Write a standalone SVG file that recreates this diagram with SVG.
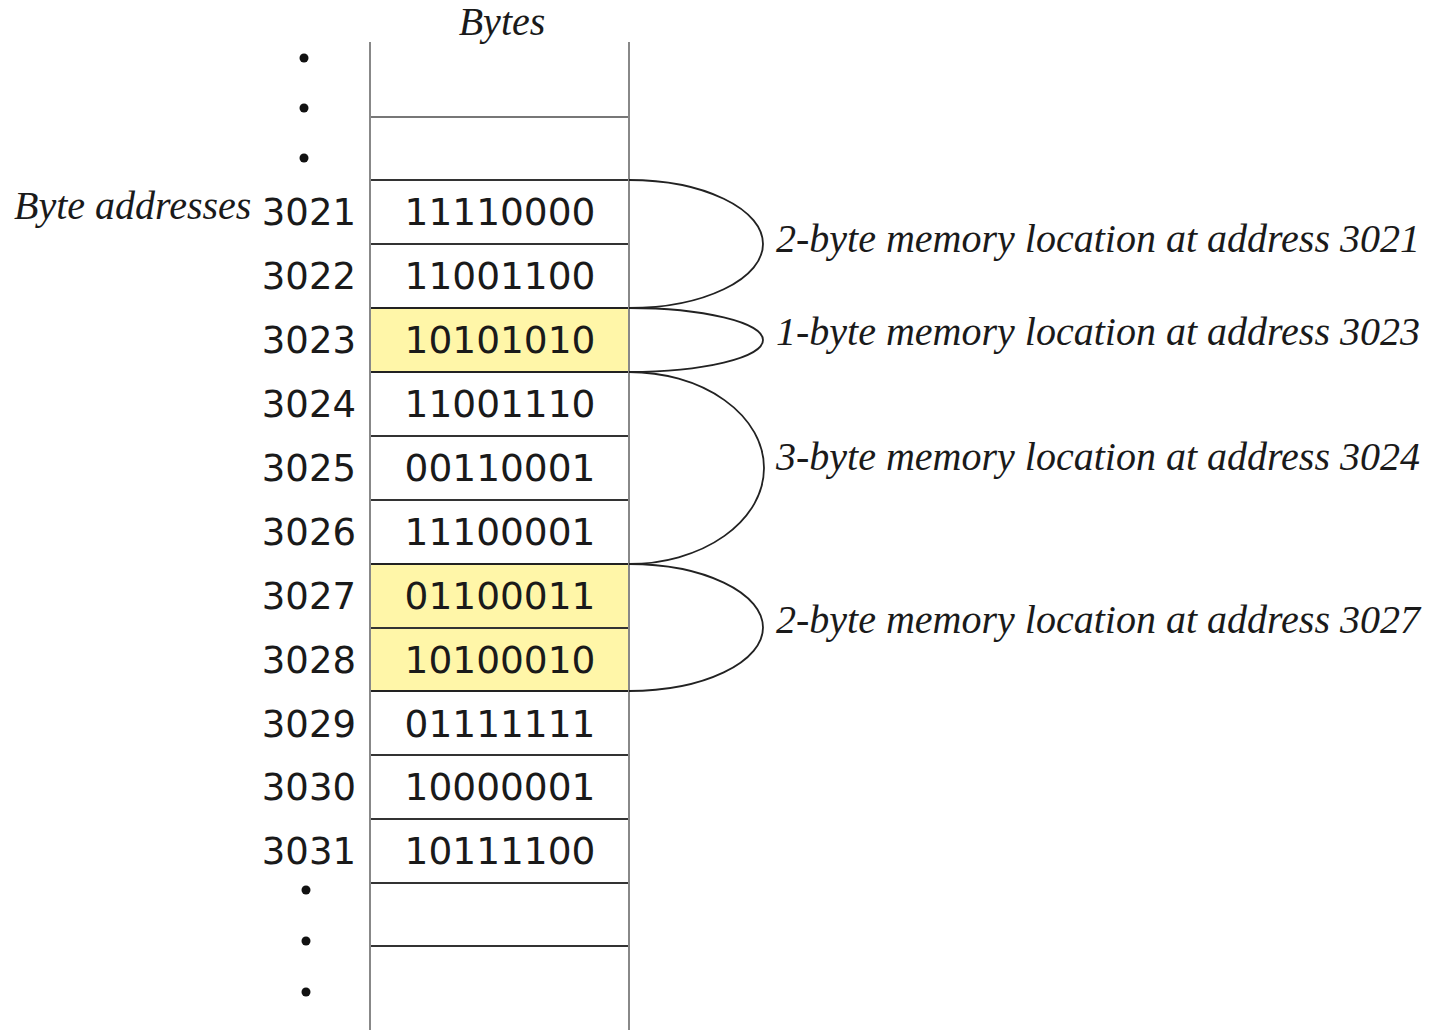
<svg xmlns="http://www.w3.org/2000/svg" width="1435" height="1030" viewBox="0 0 1435 1030">
<style>
.bin{font-family:"DejaVu Sans",sans-serif;font-size:37.5px;fill:#1a1a1a;text-anchor:middle}
.addr{font-family:"DejaVu Sans",sans-serif;font-size:37px;fill:#1a1a1a;text-anchor:end}
.it{font-family:"Liberation Serif",serif;font-style:italic;font-size:40px;fill:#1a1a1a}
.h{stroke:#333;stroke-width:2;fill:none}
.v{stroke:#888;stroke-width:2;fill:none}
.hl{fill:#fff6a8;stroke:#222;stroke-width:2}
.arc{stroke:#222;stroke-width:1.8;fill:none}
.dot{fill:#111}
</style>
<rect width="1435" height="1030" fill="#fff"/>
<g id="column">
<rect class="hl" x="370" y="308" width="259" height="64"/>
<rect class="hl" x="370" y="564" width="259" height="127"/>
<line class="h" x1="370" y1="628" x2="629" y2="628"/>
<line class="h" x1="370" y1="117" x2="629" y2="117" style="stroke:#777"/>
<line class="h" x1="370" y1="180" x2="629" y2="180"/>
<line class="h" x1="370" y1="244" x2="629" y2="244"/>
<line class="h" x1="370" y1="436" x2="629" y2="436"/>
<line class="h" x1="370" y1="500" x2="629" y2="500"/>
<line class="h" x1="370" y1="755" x2="629" y2="755"/>
<line class="h" x1="370" y1="819" x2="629" y2="819"/>
<line class="h" x1="370" y1="883" x2="629" y2="883"/>
<line class="h" x1="370" y1="946" x2="629" y2="946"/>
<line class="v" x1="370" y1="42" x2="370" y2="1030"/>
<line class="v" x1="629" y1="42" x2="629" y2="1030"/>
</g>
<text class="it" x="502" y="35" text-anchor="middle">Bytes</text>
<text class="it" x="14" y="219">Byte addresses</text>
<g id="dots">
<circle class="dot" cx="304" cy="58" r="4.5"/>
<circle class="dot" cx="304" cy="108" r="4.5"/>
<circle class="dot" cx="304" cy="158" r="4.5"/>
<circle class="dot" cx="306" cy="890" r="4.5"/>
<circle class="dot" cx="306" cy="941" r="4.5"/>
<circle class="dot" cx="306" cy="992" r="4.5"/>
</g>
<g id="row3021"><text class="addr" x="356" y="225">3021</text><text class="bin" x="500" y="225">11110000</text></g>
<g id="row3022"><text class="addr" x="356" y="289">3022</text><text class="bin" x="500" y="289">11001100</text></g>
<g id="row3023"><text class="addr" x="356" y="353">3023</text><text class="bin" x="500" y="353">10101010</text></g>
<g id="row3024"><text class="addr" x="356" y="417">3024</text><text class="bin" x="500" y="417">11001110</text></g>
<g id="row3025"><text class="addr" x="356" y="481">3025</text><text class="bin" x="500" y="481">00110001</text></g>
<g id="row3026"><text class="addr" x="356" y="545">3026</text><text class="bin" x="500" y="545">11100001</text></g>
<g id="row3027"><text class="addr" x="356" y="609">3027</text><text class="bin" x="500" y="609">01100011</text></g>
<g id="row3028"><text class="addr" x="356" y="673">3028</text><text class="bin" x="500" y="673">10100010</text></g>
<g id="row3029"><text class="addr" x="356" y="737">3029</text><text class="bin" x="500" y="737">01111111</text></g>
<g id="row3030"><text class="addr" x="356" y="800">3030</text><text class="bin" x="500" y="800">10000001</text></g>
<g id="row3031"><text class="addr" x="356" y="864">3031</text><text class="bin" x="500" y="864">10111100</text></g>
<g id="connectors">
<path class="arc" d="M629,180 A134,64 0 0 1 629,308"/>
<path class="arc" d="M629,308 A134,32 0 0 1 629,372"/>
<path class="arc" d="M629,372 A135,96 0 0 1 629,564"/>
<path class="arc" d="M629,564 A134,63.5 0 0 1 629,691"/>
</g>
<g id="labels">
<text class="it" x="776" y="252">2-byte memory location at address 3021</text>
<text class="it" x="776" y="345">1-byte memory location at address 3023</text>
<text class="it" x="776" y="470">3-byte memory location at address 3024</text>
<text class="it" x="776" y="633">2-byte memory location at address 3027</text>
</g>
</svg>
